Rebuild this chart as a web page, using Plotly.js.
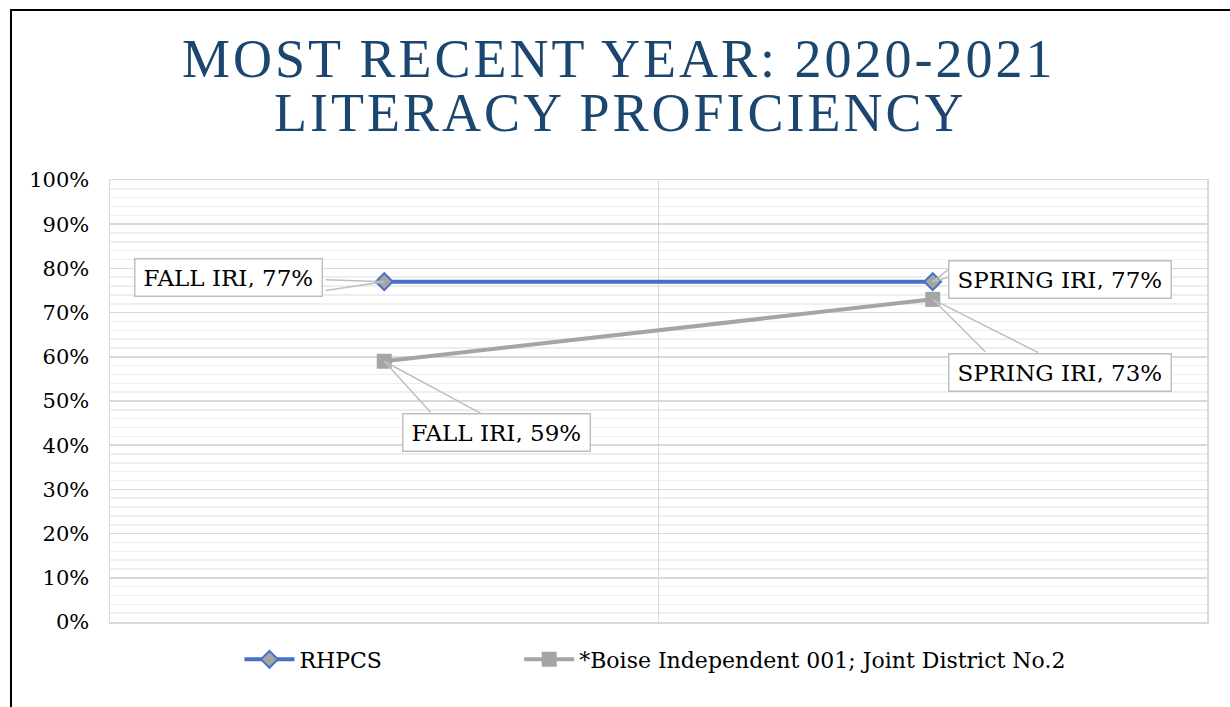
<!DOCTYPE html>
<html>
<head>
<meta charset="utf-8">
<script src="https://cdn.plot.ly/plotly-3.0.1.min.js"></script>
<style>
  html, body { margin: 0; padding: 0; background: #fff; }
  #wrap { position: relative; width: 1230px; height: 707px; overflow: hidden; }
  #chart { width: 1230px; height: 707px; }
  #frame { position: absolute; left: 10px; top: 9px; width: 1240px; height: 720px;
           border-left: 2px solid #000; border-top: 2px solid #000; pointer-events: none; }
  #chart .gtitle { letter-spacing: 3px; }
  #chart .annotation[data-index="12"] text { letter-spacing: 3px; }
</style>
</head>
<body>
<div id="wrap">
  <div id="chart"></div>
  <div id="frame"></div>
</div>
<script>
const categories = ["FALL IRI", "SPRING IRI"];
const rhpcsName = "RHPCS";
const rhpcsValues = [0.77, 0.77];
const boiseName = "*Boise Independent 001; Joint District No.2";
const boiseValues = [0.59, 0.73];
const yTickVals = [0, 0.1, 0.2, 0.3, 0.4, 0.5, 0.6, 0.7, 0.8, 0.9, 1.0];
const yTickText = ["0%", "10%", "20%", "30%", "40%", "50%", "60%", "70%", "80%", "90%", "100%"];
const titleLine1 = "MOST RECENT YEAR: 2020-2021";
const titleLine2 = "LITERACY PROFICIENCY";

const serif = "DejaVu Serif";
const titleFont = { family: "Liberation Serif", size: 54, color: "#1A4670" };
const blue = "#4472C4";
const gray = "#A5A5A5";
const calloutColor = "#BFBFBF";

const traces = [
  {
    x: categories, y: rhpcsValues, name: rhpcsName, type: "scatter", mode: "lines+markers",
    line: { color: blue, width: 4 }, legend: "legend",
    marker: { symbol: "diamond", size: 13, color: gray, line: { color: blue, width: 2 } }
  },
  {
    x: categories, y: boiseValues, name: boiseName, type: "scatter", mode: "lines+markers",
    line: { color: gray, width: 4 }, legend: "legend2",
    marker: { symbol: "square", size: 15, color: gray, line: { color: gray, width: 0 } }
  }
];

function pct(v) { return Math.round(v * 100) + "%"; }

// label box offsets (pixels) and wedge edge offsets
const labels = [
  { x: categories[0], y: rhpcsValues[0], text: categories[0] + ", " + pct(rhpcsValues[0]), ax: -156, ay: -4, w: [[-60, -2], [-60, 9]] },
  { x: categories[1], y: rhpcsValues[1], text: categories[1] + ", " + pct(rhpcsValues[1]), ax: 127, ay: -2, w: [[18, -14], [18, -5]] },
  { x: categories[1], y: boiseValues[1], text: categories[1] + ", " + pct(boiseValues[1]), ax: 127, ay: 73, w: [[54, 54], [107, 54]] },
  { x: categories[0], y: boiseValues[0], text: categories[0] + ", " + pct(boiseValues[0]), ax: 112, ay: 71, w: [[48, 53], [98, 53]] }
];

const annotations = [];
labels.forEach(l => {
  l.w.forEach(p => {
    annotations.push({
      x: l.x, y: l.y, xref: "x", yref: "y", text: " ", font: { size: 1 },
      showarrow: true, arrowhead: 0, arrowwidth: 1.5, arrowcolor: calloutColor,
      ax: p[0], ay: p[1], standoff: 0, startstandoff: 0
    });
  });
});
labels.forEach(l => {
  annotations.push({
    x: l.x, y: l.y, xref: "x", yref: "y", text: l.text,
    font: { family: serif, size: 23, color: "#000" },
    showarrow: true, arrowcolor: "rgba(0,0,0,0)", arrowwidth: 0.1, arrowhead: 0,
    ax: l.ax, ay: l.ay,
    bgcolor: "#fff", bordercolor: calloutColor, borderwidth: 1.5, borderpad: 8,
    height: 20
  });
});
// second title line (index 12)
annotations.push({
  text: titleLine2, font: titleFont, showarrow: false,
  xref: "paper", yref: "paper", x: 0.4655, xanchor: "center",
  y: 1.152, yanchor: "middle"
});

const legendCommon = {
  orientation: "h", yanchor: "middle", y: -0.085, xanchor: "left",
  font: { family: serif, size: 22, color: "#000" },
  itemwidth: 50,
  bgcolor: "rgba(0,0,0,0)"
};

const layout = {
  width: 1230, height: 707,
  paper_bgcolor: "#fff", plot_bgcolor: "#fff",
  margin: { l: 110, r: 23, t: 180, b: 85 },
  title: {
    text: titleLine1,
    font: titleFont,
    x: 0.503, xanchor: "center", xref: "container",
    y: 0.918, yanchor: "middle", yref: "container"
  },
  xaxis: {
    type: "category", range: [-0.5, 1.5], tickson: "boundaries",
    showticklabels: false, ticks: "",
    showgrid: true, gridcolor: "#D9D9D9", gridwidth: 1.5,
    showline: true, linecolor: "#D9D9D9", linewidth: 1.5, mirror: true,
    zeroline: false, fixedrange: true
  },
  yaxis: {
    range: [0, 1], tickvals: yTickVals, ticktext: yTickText,
    tickfont: { family: serif, size: 21, color: "#000" },
    ticks: "", ticklabelstandoff: 15,
    showgrid: true, gridcolor: "#D9D9D9", gridwidth: 1.5,
    minor: { dtick: 0.02, showgrid: true, gridcolor: "#EEEEEE", gridwidth: 1.5 },
    showline: true, linecolor: "#D9D9D9", linewidth: 1.5, mirror: true,
    zeroline: false, fixedrange: true
  },
  showlegend: true,
  legend: Object.assign({}, legendCommon, { x: 0.118 }),
  legend2: Object.assign({}, legendCommon, { x: 0.373 }),
  annotations: annotations
};

Plotly.newPlot("chart", traces, layout, { staticPlot: true, displayModeBar: false });
</script>
</body>
</html>
